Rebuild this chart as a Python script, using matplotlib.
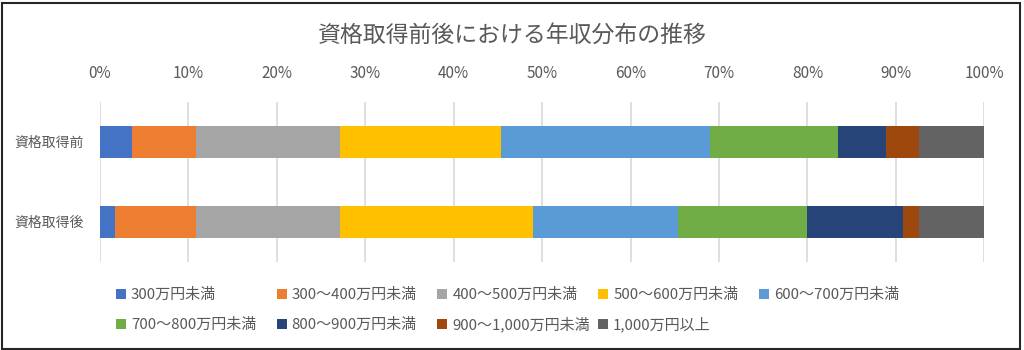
import numpy as np
import matplotlib.pyplot as plt
from matplotlib.patches import Rectangle

plt.rcParams['font.family'] = ['Noto Sans CJK JP', 'DejaVu Sans']

categories = ['資格取得前', '資格取得後']
brackets = ['300万円未満', '300～400万円未満', '400～500万円未満', '500～600万円未満',
            '600～700万円未満', '700～800万円未満', '800～900万円未満',
            '900～1,000万円未満', '1,000万円以上']
# share (%) of each income bracket, before / after
before = [3.6, 7.3, 16.2, 18.3, 23.6, 14.5, 5.4, 3.7, 7.4]
after = [1.7, 9.2, 16.2, 21.9, 16.4, 14.5, 10.9, 1.8, 7.4]
colors = ['#4472C4', '#ED7D31', '#A5A5A5', '#FFC000', '#5B9BD5',
          '#70AD47', '#264478', '#9E480E', '#636363']

W, H = 1024, 350
fig = plt.figure(figsize=(W / 100, H / 100), dpi=100)
ax = fig.add_axes([100 / W, (H - 261.7) / H, 884.3 / W, 160 / H])

txt = '#595959'
data = np.array([before, after])
y = np.arange(len(categories))
left = np.zeros(len(categories))
for i, name in enumerate(brackets):
    ax.barh(y, data[:, i], left=left, height=0.4, color=colors[i],
            label=name, zorder=3)
    left += data[:, i]

ax.set_xlim(0, 100)
ax.set_ylim(1.5, -0.5)
ax.set_xticks(np.arange(0, 101, 10))
ax.set_xticklabels([f'{v}%' for v in range(0, 101, 10)])
ax.set_yticks(y)
ax.set_yticklabels(categories)
ax.xaxis.tick_top()
ax.tick_params(axis='x', length=0, pad=14, labelsize=11, labelcolor=txt)
ax.tick_params(axis='y', length=0, pad=12, labelsize=10, labelcolor=txt)
ax.grid(axis='x', color='#D9D9D9', linewidth=1.2, zorder=0)
for s in ax.spines.values():
    s.set_visible(False)

fig.text(0.5, (H - 35) / H, '資格取得前後における年収分布の推移', ha='center',
         va='center', fontsize=16.5, color=txt)

# legend laid out in a fixed grid of 5 columns
for i, (name, c) in enumerate(zip(brackets, colors)):
    row, col = divmod(i, 5)
    x0 = 116 + col * 160.7
    yc = 294.3 + row * 30
    fig.patches.append(Rectangle((x0 / W, (H - yc - 5) / H), 10 / W, 10 / H,
                                 transform=fig.transFigure, facecolor=c,
                                 edgecolor='none'))
    fig.text((x0 + 15) / W, (H - yc) / H, name, ha='left', va='center',
             fontsize=10.8, color=txt)

fig.patches.append(Rectangle((1.5 / W, 1.5 / H), 1018 / W, 346 / H,
                             transform=fig.transFigure, facecolor='none',
                             edgecolor='#262626', linewidth=1.5))

fig.savefig('out.png', dpi=100)
